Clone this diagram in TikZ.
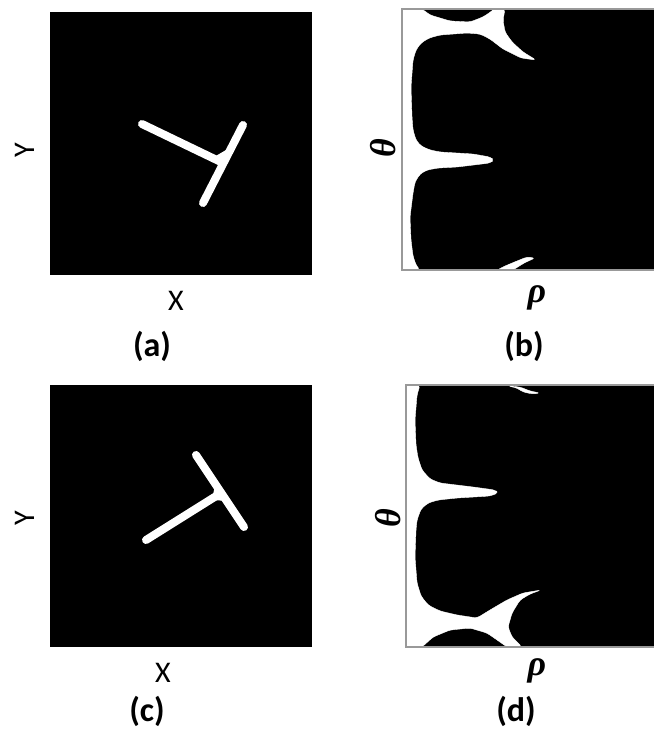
\documentclass[tikz,border=0pt]{standalone}
\usepackage{fontspec}
\setmainfont{Carlito}
\newfontfamily\grkfont{Liberation Serif}
\tikzset{
  panel/.style={fill=black},
  hole/.style={fill=white, draw=white, line width=0.4pt, line join=round, rounded corners=3pt},
  frame/.style={draw=black!40, line width=1.2pt},
  bar/.style={draw=white, line width=8pt, line cap=round},
  axlab/.style={inner sep=0pt, font=\fontsize{30}{34}\selectfont},
  greek/.style={inner sep=0pt, font=\fontsize{36}{40}\selectfont\grkfont\bfseries\itshape},
  tag/.style={inner sep=0pt, font=\fontsize{34}{38}\selectfont\bfseries}
}
\begin{document}
\begin{tikzpicture}[x=1pt,y=-1pt]
\useasboundingbox (0,0) rectangle (654,731);
\fill[white] (0,0) rectangle (654,731);

% ---------- panel (a) ----------
\fill[panel] (50,12) rectangle (312,275);
\draw[bar] (142,124) -- (223,163);
\draw[bar] (243,125) -- (203,203);
\fill[white] (214,157) -- (226,150) -- (224,170) -- cycle;
\node[axlab, rotate=90] (ya) at (25,150) {Y};
\node[axlab] (xa) at (176,301) {X};
\node[tag] (ta) at (152,346) {(a)};

% ---------- panel (b) ----------
\fill[panel] (402,9) rectangle (654,270);
\fill[hole] (402,9) -- (422,9) -- (430,15) -- (450,21) -- (470,22) -- (483,17) -- (492,11) -- (494,9)
  -- (505,9) -- (503,20) -- (505,32) -- (512,42) -- (523,52) -- (536,60)
  -- (521,58) -- (503,49) -- (490,39) -- (480,34) -- (467,33) -- (440,35) -- (429,38) -- (421,43)
  -- (416,50) -- (413,60) -- (411,87) -- (412,117) -- (413,130) -- (416,140) -- (421,146)
  -- (430,150) -- (440,152) -- (473,154)
  -- (490,157) -- (494,160) -- (490,163) -- (457,167) -- (438,168) -- (427,170) -- (420,174)
  -- (415,182) -- (413,193) -- (410,217) -- (411,240) -- (413,256) -- (416,265) -- (420,270)
  -- (402,270) -- cycle;
\fill[hole] (497,270) -- (505,266) -- (517,261) -- (527,257) -- (535,258) -- (524,263) -- (513,270) -- cycle;
\draw[frame] (654,9) -- (402,9) -- (402,270) -- (654,270);
\node[greek, rotate=90] (thb) at (383,148) {θ};
\node[greek] (rhb) at (537,298) {ρ};
\node[tag] (tb) at (524,346) {(b)};

% ---------- panel (c) ----------
\fill[panel] (50,385) rectangle (312,647);
\draw[bar] (146,540) -- (221,493);
\draw[bar] (196,455) -- (244,527);
\fill[white] (212,500) -- (215,485) -- (228,501) -- cycle;
\node[axlab, rotate=90] (yc) at (25,518) {Y};
\node[axlab] (xc) at (163,673) {X};
\node[tag] (tc) at (147,711) {(c)};

% ---------- panel (d) ----------
\fill[panel] (406,385) rectangle (654,647);
\fill[hole] (406,385) -- (420,385) -- (417,395) -- (415,420) -- (416,445) -- (418,458) -- (422,470)
  -- (430,479) -- (440,483)
  -- (473,487) -- (495,490) -- (498,493) -- (490,496) -- (457,498) -- (438,500) -- (428,503)
  -- (421,509) -- (417,520) -- (416,530) -- (415,557) -- (417,583) -- (421,596) -- (428,605)
  -- (440,611) -- (457,615) -- (477,618) -- (490,610)
  -- (507,600) -- (523,593) -- (541,590) -- (530,594) -- (520,600) -- (512,613) -- (508,627)
  -- (512,637) -- (522,647) -- (507,647) -- (500,642) -- (487,633) -- (470,628) -- (450,630)
  -- (433,637) -- (422,647) -- (406,647) -- cycle;
\fill[hole] (508,386) -- (520,387) -- (530,391) -- (540,393) -- (533,394) -- (523,392) -- (517,388) -- cycle;
\draw[frame] (654,385) -- (406,385) -- (406,647) -- (654,647);
\node[greek, rotate=90] (thd) at (388,518) {θ};
\node[greek] (rhd) at (537,671) {ρ};
\node[tag] (td) at (516,711) {(d)};
\end{tikzpicture}
\end{document}
